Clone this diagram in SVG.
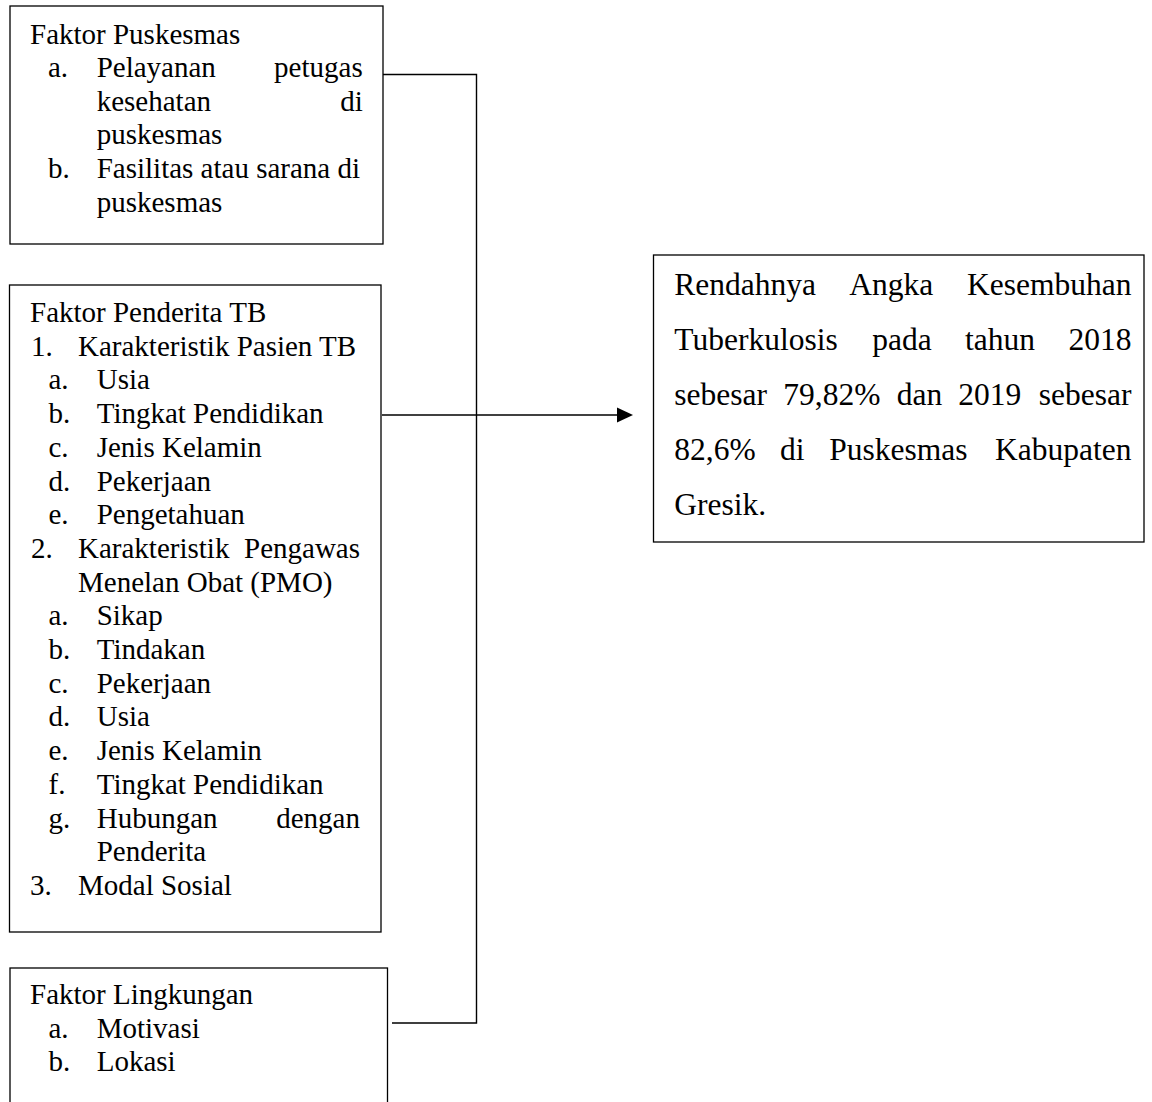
<svg xmlns="http://www.w3.org/2000/svg" width="1152" height="1102" viewBox="0 0 1152 1102">
<style>
.box{fill:#fff;stroke:#000;stroke-width:1.3}
.t{font-family:"Liberation Serif","Times New Roman",serif;font-size:29px;fill:#000}
.r{font-family:"Liberation Serif","Times New Roman",serif;font-size:31.5px;fill:#000}
.e{text-anchor:end}
.c{fill:none;stroke:#000;stroke-width:1.4}
</style>
<rect width="1152" height="1102" fill="#fff"/>
<g id="connectors">
<polyline class="c" points="383,74.5 476.5,74.5 476.5,1023 392,1023"/>
<line class="c" x1="382" y1="415" x2="620" y2="415"/>
<polygon points="617,407.5 633,415 617,422.5" fill="#000"/>
</g>
<g id="faktor-puskesmas">
<rect class="box" x="10" y="6" width="373" height="238"/>
<text class="t" x="30" y="43.5">Faktor Puskesmas</text>
<text class="t" x="48" y="77.1">a.</text>
<text class="t" x="96.7" y="77.1">Pelayanan</text>
<text class="t e" x="362.7" y="77.1">petugas</text>
<text class="t" x="96.7" y="110.7">kesehatan</text>
<text class="t e" x="362.7" y="110.7">di</text>
<text class="t" x="96.7" y="144.3">puskesmas</text>
<text class="t" x="48" y="177.9">b.</text>
<text class="t" x="96.7" y="177.9">Fasilitas atau sarana di</text>
<text class="t" x="96.7" y="211.5">puskesmas</text>
</g>
<g id="faktor-penderita">
<rect class="box" x="9.5" y="285" width="371.5" height="647"/>
<text class="t" x="30" y="322">Faktor Penderita TB</text>
<text class="t" x="31" y="355.7">1.</text>
<text class="t" x="78" y="355.7">Karakteristik Pasien TB</text>
<text class="t" x="48.5" y="389.4">a.</text>
<text class="t" x="96.7" y="389.4">Usia</text>
<text class="t" x="48.5" y="423.1">b.</text>
<text class="t" x="96.7" y="423.1">Tingkat Pendidikan</text>
<text class="t" x="48.5" y="456.8">c.</text>
<text class="t" x="96.7" y="456.8">Jenis Kelamin</text>
<text class="t" x="48.5" y="490.5">d.</text>
<text class="t" x="96.7" y="490.5">Pekerjaan</text>
<text class="t" x="48.5" y="524.2">e.</text>
<text class="t" x="96.7" y="524.2">Pengetahuan</text>
<text class="t" x="31" y="557.9">2.</text>
<text class="t" x="78" y="557.9">Karakteristik</text>
<text class="t e" x="360" y="557.9">Pengawas</text>
<text class="t" x="78" y="591.6">Menelan Obat (PMO)</text>
<text class="t" x="48.5" y="625.3">a.</text>
<text class="t" x="96.7" y="625.3">Sikap</text>
<text class="t" x="48.5" y="659">b.</text>
<text class="t" x="96.7" y="659">Tindakan</text>
<text class="t" x="48.5" y="692.7">c.</text>
<text class="t" x="96.7" y="692.7">Pekerjaan</text>
<text class="t" x="48.5" y="726.4">d.</text>
<text class="t" x="96.7" y="726.4">Usia</text>
<text class="t" x="48.5" y="760.1">e.</text>
<text class="t" x="96.7" y="760.1">Jenis Kelamin</text>
<text class="t" x="48.5" y="793.8">f.</text>
<text class="t" x="96.7" y="793.8">Tingkat Pendidikan</text>
<text class="t" x="48.5" y="827.5">g.</text>
<text class="t" x="96.7" y="827.5">Hubungan</text>
<text class="t e" x="360" y="827.5">dengan</text>
<text class="t" x="96.7" y="861.2">Penderita</text>
<text class="t" x="30" y="894.9">3.</text>
<text class="t" x="78" y="894.9">Modal Sosial</text>
</g>
<g id="faktor-lingkungan">
<rect class="box" x="10" y="968" width="377.5" height="150"/>
<text class="t" x="30" y="1004">Faktor Lingkungan</text>
<text class="t" x="48.5" y="1037.7">a.</text>
<text class="t" x="96.7" y="1037.7">Motivasi</text>
<text class="t" x="48.5" y="1071.4">b.</text>
<text class="t" x="96.7" y="1071.4">Lokasi</text>
</g>
<g id="rendahnya">
<rect class="box" x="653.5" y="255" width="490.5" height="287"/>
<text class="r" x="674.3" y="294.5">Rendahnya</text>
<text class="r" x="849.3" y="294.5">Angka</text>
<text class="r e" x="1131.5" y="294.5">Kesembuhan</text>
<text class="r" x="674.3" y="349.7">Tuberkulosis</text>
<text class="r" x="872.3" y="349.7">pada</text>
<text class="r" x="965" y="349.7">tahun</text>
<text class="r e" x="1131.5" y="349.7">2018</text>
<text class="r" x="674.3" y="404.9">sebesar</text>
<text class="r" x="783.3" y="404.9">79,82%</text>
<text class="r" x="896.7" y="404.9">dan</text>
<text class="r" x="958.3" y="404.9">2019</text>
<text class="r e" x="1131.5" y="404.9">sebesar</text>
<text class="r" x="674.3" y="460.1">82,6%</text>
<text class="r" x="780" y="460.1">di</text>
<text class="r" x="829.3" y="460.1">Puskesmas</text>
<text class="r e" x="1131.5" y="460.1">Kabupaten</text>
<text class="r" x="674.3" y="515.3">Gresik.</text>
</g>
</svg>
